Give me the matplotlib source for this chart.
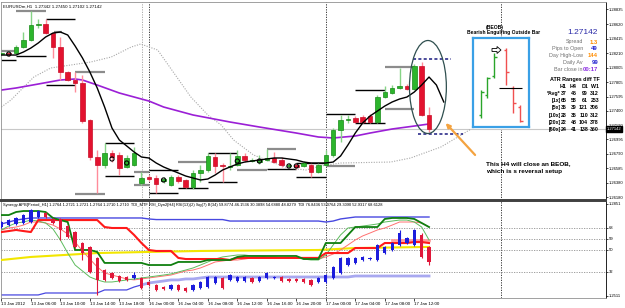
import numpy as np
import matplotlib.pyplot as plt
from matplotlib.patches import Ellipse, FancyArrow

plt.rcParams['font.family'] = ['Liberation Sans', 'DejaVu Sans']

# EURUSDm H1 bars, index 0 = 13 Jan 2012 02:00 ... index 58 = 17 Jan 14:00
opens = [1.28202, 1.28217, 1.28217, 1.28301, 1.28400, 1.28613, 1.28627, 1.28499, 1.28301, 1.27948,
         1.27835, 1.27792, 1.27269, 1.26746, 1.26633, 1.26803, 1.26774, 1.26605, 1.26633, 1.26378,
         1.26463, 1.26449, 1.26407, 1.26350, 1.26463, 1.26421, 1.26322, 1.26520, 1.26562, 1.26746,
         1.26633, 1.26605, 1.26633, 1.26760, 1.26689, 1.26675, 1.26704, 1.26732, 1.26704, 1.26619,
         1.26633, 1.26619, 1.26633, 1.26534, 1.26633, 1.26774, 1.27128, 1.27269, 1.27298, 1.27312,
         1.27326, 1.27241, 1.27594, 1.27651, 1.27722, 1.27750, 1.27708, 1.28033, 1.27342]
highs = [1.28231, 1.28231, 1.28330, 1.28514, 1.28810, 1.28697, 1.28697, 1.28514, 1.28443, 1.27962,
         1.27948, 1.27906, 1.27283, 1.26845, 1.26944, 1.26845, 1.26817, 1.26774, 1.26887, 1.26534,
         1.26492, 1.26492, 1.26463, 1.26492, 1.26492, 1.26435, 1.26562, 1.26633, 1.26803, 1.26803,
         1.26661, 1.26803, 1.26845, 1.26803, 1.26732, 1.26774, 1.26859, 1.26817, 1.26746, 1.26661,
         1.26661, 1.26689, 1.26661, 1.26675, 1.26845, 1.27156, 1.27340, 1.27340, 1.27326, 1.27340,
         1.27354, 1.27623, 1.27750, 1.27764, 1.28005, 1.27778, 1.28061, 1.28089, 1.27450]
lows = [1.28188, 1.28174, 1.28202, 1.28287, 1.28386, 1.28570, 1.28485, 1.28146, 1.27835, 1.27821,
        1.27665, 1.27227, 1.26704, 1.26237, 1.26591, 1.26675, 1.26492, 1.26591, 1.26619, 1.26350,
        1.26407, 1.26237, 1.26378, 1.26336, 1.26378, 1.26308, 1.26294, 1.26393, 1.26534, 1.26520,
        1.26393, 1.26562, 1.26619, 1.26675, 1.26675, 1.26647, 1.26689, 1.26661, 1.26605, 1.26591,
        1.26576, 1.26605, 1.26463, 1.26520, 1.26619, 1.26746, 1.26958, 1.27227, 1.27227, 1.27227,
        1.27227, 1.27227, 1.27580, 1.27637, 1.27708, 1.27693, 1.27693, 1.27326, 1.27102]
closes = [1.28217, 1.28202, 1.28301, 1.28400, 1.28613, 1.28627, 1.28499, 1.28301, 1.27948, 1.27835,
          1.27792, 1.27255, 1.26746, 1.26633, 1.26803, 1.26746, 1.26591, 1.26732, 1.26803, 1.26449,
          1.26435, 1.26364, 1.26435, 1.26463, 1.26407, 1.26322, 1.26520, 1.26562, 1.26760, 1.26619,
          1.26619, 1.26619, 1.26760, 1.26704, 1.26704, 1.26704, 1.26732, 1.26675, 1.26633, 1.26633,
          1.26605, 1.26661, 1.26534, 1.26633, 1.26774, 1.27128, 1.27269, 1.27283, 1.27241, 1.27241,
          1.27241, 1.27594, 1.27665, 1.27722, 1.27750, 1.27708, 1.28033, 1.27340, 1.27142]

# black MA (shifted 2 bars forward, so 61 values)
ma_fast = [1.28188, 1.28188, 1.28188, 1.28231, 1.28287, 1.28358, 1.28443, 1.28499, 1.28514, 1.28471,
           1.28316, 1.28146, 1.27948, 1.27722, 1.27453, 1.27156, 1.26986, 1.26902, 1.26817, 1.26746,
           1.26732, 1.26661, 1.26605, 1.26562, 1.26520, 1.26477, 1.26449, 1.26421, 1.26435, 1.26492,
           1.26562, 1.26605, 1.26647, 1.26675, 1.26689, 1.26704, 1.26718, 1.26732, 1.26732, 1.26718,
           1.26704, 1.26675, 1.26661, 1.26661, 1.26661, 1.26675, 1.26760, 1.26916, 1.27085, 1.27227,
           1.27326, 1.27396, 1.27467, 1.27524, 1.27566, 1.27594, 1.27665, 1.27764, 1.27877, 1.27764,
           1.27524]
# purple MA
ma_slow_idx = [0, 2, 5, 8, 10, 11, 13, 16, 19, 20, 22, 26, 31, 35, 40, 43, 45, 48, 50, 53, 56, 58]
ma_slow = [1.27693, 1.27722, 1.27778, 1.27835, 1.27849, 1.27835, 1.27764, 1.27651, 1.27566, 1.27538,
           1.27453, 1.27340, 1.27241, 1.27170, 1.27085, 1.27029, 1.27015, 1.27043, 1.27085, 1.27142,
           1.27184, 1.27213]
# gray dotted line
env_idx = [0, 1.3, 4.4, 6.7, 9.4, 12.1, 14.9, 17.6, 18.9, 21.2, 23.4, 25.7, 28.0, 29.8, 31.5, 34.2,
           37.0, 38.9, 41.3, 43.3, 46.0, 52.8, 55.5, 59.6, 61.9, 63.7]
env = [1.27453, 1.27552, 1.27877, 1.28005, 1.28047, 1.28089, 1.28160, 1.28301, 1.28344, 1.28259,
       1.27934, 1.27594, 1.27340, 1.27199, 1.26986, 1.26774, 1.26661, 1.26591, 1.26562, 1.26619,
       1.26661, 1.26675, 1.26732, 1.26887, 1.27029, 1.27142]

# H4 high / low levels
lvl_start = [0, 0, 2, 2, 6, 6, 7.1, 10, 10, 14, 14, 18, 18, 20, 20, 24, 24, 28, 28, 32,
             36, 36, 40, 40, 44, 44, 48, 48, 52, 52]
lvl_end = [2, 2, 6, 6, 10, 10, 8.2, 14, 14, 18, 18, 20, 20, 24, 24, 28, 28, 32, 32, 36,
           40, 40, 44, 44, 48, 48, 52, 52, 56, 56]
lvl_price = [1.28245, 1.28118, 1.28810, 1.28174, 1.28697, 1.27764, 1.28514, 1.27948, 1.26223, 1.26944,
             1.26477, 1.26534, 1.26350, 1.26562, 1.26237, 1.26675, 1.26308, 1.26803, 1.26393, 1.26562,
             1.26859, 1.26576, 1.26661, 1.26463, 1.27354, 1.26619, 1.27693, 1.27227, 1.28019, 1.27425]
lvl_kind = ['g', 'k', 'g', 'k', 'k', 'k', 'g', 'g', 'g', 'k', 'k', 'g', 'g', 'k', 'k',
            'g', 'k', 'k', 'k', 'g', 'g', 'k', 'k', 'k', 'k', 'g', 'k', 'k', 'g', 'g']

circ_idx = [1, 15, 17, 22, 32, 35, 39, 40]
circ_price = [1.28202, 1.26718, 1.26661, 1.26421, 1.26689, 1.26689, 1.26619, 1.26619]

price_ticks = [1.26180, 1.26380, 1.26585, 1.26790, 1.26995, 1.27190, 1.27400, 1.27595, 1.27805,
               1.28005, 1.28210, 1.28415, 1.28620, 1.28835]
last_price = 1.27142
cur_h4_high = 1.28132
cur_h4_low = 1.27071

time_idx = [0, 4, 8, 12, 16, 20, 24, 28, 32, 36, 40, 44, 48, 52, 56]
time_labels = ['13 Jan 2012', '13 Jan 06:00', '13 Jan 10:00', '13 Jan 14:00', '13 Jan 18:00',
               '16 Jan 00:00', '16 Jan 04:00', '16 Jan 08:00', '16 Jan 12:00', '16 Jan 16:00',
               '16 Jan 20:00', '17 Jan 00:00', '17 Jan 04:00', '17 Jan 08:00', '17 Jan 12:00']
day_seps = [20, 44, 67.7]

# Synergy APB / TDI sub window
blue_up = [71.3, 72.9, 74.5, 75.4, 76.2,
           76.2, 76.2, 76.2, 76.2, 76.2, 76.2, 76.2, 76.2, 76.2, 76.2, 76.2, 76.2, 76.2, 76.2, 76.2,
           75.4, 74.9, 74.9, 74.9, 74.9, 74.9, 74.9, 74.9, 74.9, 74.9, 74.9,
           73.7, 73.7, 73.7, 73.7, 73.7, 73.7, 73.7, 73.7, 73.7, 73.7, 73.7, 73.7, 73.7,
           72.9, 73.7, 75.4, 76.2,
           77.0, 77.0, 77.0, 77.0, 77.0, 77.0, 77.0, 77.0, 77.0, 77.0, 77.0]
blue_dn = [13.2, 13.2, 13.2, 13.2, 13.2, 13.2, 14.8, 14.8, 14.8, 14.8,
           14.8, 14.8, 14.8, 14.8, 17.3, 17.3, 17.3, 17.3, 19.7, 21.4,
           23.0, 23.8, 24.6, 25.5, 25.5, 26.3, 26.3, 27.1, 27.9, 27.9,
           27.9, 27.9, 27.9, 27.9, 27.9, 27.9, 27.9, 27.9, 27.9, 27.9,
           27.9, 27.9, 27.9, 27.9, 27.9, 27.9, 27.9, 27.9, 28.7, 28.7,
           28.7, 28.7, 28.7, 28.7, 28.7, 28.7, 28.7, 28.7, 28.7]
tdi_green = [78.6, 78.6, 81.1, 81.9, 81.9, 81.9, 81.1, 76.2, 74.5, 72.9,
             50.0, 50.0, 50.0, 48.4, 39.4, 39.4, 39.4, 39.4, 39.4, 39.4,
             37.7, 37.7, 37.7, 37.7, 40.2, 40.2, 40.2, 40.2, 41.8, 41.8,
             41.8, 41.8, 44.3, 45.1, 45.1, 45.1, 45.1, 45.1, 45.1, 45.1,
             45.1, 42.6, 42.6, 42.6, 55.7, 55.7, 55.7, 62.3, 68.8, 68.8,
             68.8, 68.8, 75.4, 76.2, 76.2, 76.2, 75.4, 72.1, 68.8]
tdi_lgreen = [66.4, 69.6, 72.1, 72.9, 74.5, 73.7, 72.1, 67.2, 58.2, 47.5,
              37.7, 32.8, 27.9, 25.5, 23.8, 23.8, 24.6, 25.5, 26.3, 27.1,
              27.9, 28.7, 29.5, 30.4, 32.0, 33.6, 35.3, 37.7, 40.2, 42.6,
              44.3, 45.1, 45.9, 45.9, 45.1, 45.1, 44.3, 44.3, 43.5, 43.5,
              43.5, 42.6, 41.8, 41.8, 45.9, 54.1, 62.3, 68.0, 68.8, 69.6,
              70.4, 71.3, 72.9, 73.7, 74.5, 74.5, 72.9, 68.8, 58.2]
tdi_red = [64.7, 65.5, 66.4, 65.5, 64.7, 74.5, 74.5, 74.5, 74.5, 74.5,
           74.5, 74.5, 74.5, 74.5, 68.8, 68.0, 68.0, 68.0, 62.3, 55.7,
           50.0, 49.2, 49.2, 49.2, 43.5, 42.6, 42.6, 42.6, 42.6, 42.6,
           42.6, 41.8, 43.5, 43.5, 43.5, 43.5, 43.5, 43.5, 43.5, 43.5,
           43.5, 43.5, 43.5, 43.5, 47.5, 47.5, 47.5, 47.5, 51.6, 51.6,
           51.6, 51.6, 55.7, 55.7, 55.7, 55.7, 56.5, 56.5, 55.7]
tdi_lred = [66.4, 68.0, 68.8, 70.4, 72.9, 72.9, 72.1, 70.4, 67.2, 63.1,
            56.5, 49.2, 42.6, 36.1, 31.2, 29.5, 27.9, 26.3, 25.5, 26.3,
            27.1, 27.9, 28.7, 29.5, 31.2, 32.8, 33.6, 35.3, 37.7, 40.2,
            41.0, 41.8, 41.8, 42.6, 43.5, 43.5, 43.5, 43.5, 43.5, 43.5,
            43.5, 43.5, 42.6, 42.6, 44.3, 46.7, 50.0, 54.1, 58.2, 61.5,
            63.9, 66.4, 68.0, 70.4, 72.9, 72.9, 72.9, 72.1, 68.8]
yellow_idx = [0, 4, 13, 20, 27, 43, 48, 58]
yellow_v = [41.8, 44.3, 47.5, 48.4, 49.2, 50.0, 51.6, 52.5]
pink_idx = [53, 58]
pink_v = [58.2, 58.2]

apb_open = [68.8, 70.4, 71.3, 72.1, 72.9, 77.0, 80.3, 75.4, 75.4, 69.6,
            64.7, 55.7, 52.5, 43.5, 33.6, 31.2, 28.7, 27.9, 27.1, 27.1,
            23.8, 21.4, 19.7, 18.1, 21.4, 18.9, 17.3, 18.9, 19.7, 23.0,
            27.1, 25.5, 24.6, 24.6, 27.1, 24.6, 27.1, 27.1, 27.9, 26.3,
            26.3, 26.3, 25.5, 23.8, 23.8, 27.1, 31.2, 37.7, 39.4, 41.8,
            43.0, 41.8, 47.5, 50.0, 54.1, 55.7, 54.1, 62.3, 52.5]
apb_close = [72.9, 74.5, 76.2, 78.6, 82.7, 81.9, 77.0, 72.1, 66.4, 60.6,
             52.5, 47.5, 32.0, 25.5, 25.5, 27.1, 24.6, 25.5, 29.5, 18.9,
             21.4, 17.3, 18.1, 21.4, 17.3, 16.5, 21.4, 23.8, 27.9, 27.9,
             18.9, 29.5, 27.9, 27.9, 23.8, 27.9, 31.2, 27.9, 24.6, 24.6,
             24.6, 23.8, 21.4, 27.1, 29.5, 36.1, 43.5, 43.5, 43.5, 44.3,
             43.5, 54.1, 52.5, 55.7, 63.9, 59.8, 66.4, 44.3, 40.2]
apb_high = [73.7, 75.4, 77.0, 79.4, 83.5, 82.7, 81.1, 76.2, 76.2, 70.4,
            65.5, 56.5, 53.3, 44.3, 34.4, 32.0, 29.5, 28.7, 32.0, 27.9,
            24.6, 22.2, 20.5, 22.2, 22.2, 19.7, 22.2, 24.6, 28.7, 28.7,
            27.9, 30.4, 28.7, 28.7, 27.9, 28.7, 32.0, 28.7, 28.7, 27.1,
            27.1, 27.1, 26.3, 27.9, 30.4, 36.9, 44.3, 44.3, 44.3, 45.1,
            44.3, 54.9, 53.3, 56.5, 66.4, 60.6, 67.2, 63.9, 53.3]
apb_low = [68.0, 69.6, 70.4, 71.3, 72.1, 76.2, 76.2, 71.3, 58.2, 59.8,
           51.6, 41.8, 31.2, 13.2, 24.6, 26.3, 23.8, 24.6, 26.3, 18.1,
           20.5, 16.5, 17.3, 17.3, 16.5, 15.7, 16.5, 18.1, 18.9, 22.2,
           18.1, 24.6, 23.8, 23.8, 23.0, 23.8, 26.3, 26.3, 23.8, 23.8,
           23.8, 23.0, 20.5, 23.0, 23.0, 26.3, 30.4, 36.9, 38.6, 41.0,
           42.2, 41.0, 46.7, 49.2, 53.3, 54.9, 53.3, 43.5, 37.7]

sub_levels = [68, 59, 50, 32]
sub_ticks = [12.5, 32, 50, 59, 68, 87.8]
sub_labels = ['1.2511', '32', '50', '59', '68', '1.2851']

# info panel
info_labels = ['Spread', 'Pips to Open', 'Day High-Low', 'Daily Av', 'Bar close in']
info_values = ['1.3', '49', '144', '99', '00:17']
info_colors = ['#ff8c00', '#2020d0', '#ff8c00', '#2020d0', '#8a2be2']
atr_cols = ['H1', 'H4', 'D1', 'W1']
atr_rows = ['*Avg*', '[1x]', '[5x]', '[10x]', '[20x]', '[60x]']
atr_vals = [[37, 45, 99, 312], [65, 58, 61, 253], [35, 39, 121, 306],
            [28, 35, 110, 312], [22, 48, 104, 378], [24, 41, 138, 360]]

# BEOB sketch in the box (own units)
pat_x = [8, 14, 21, 33, 40, 47]
pat_open = [12, 32, 51, 77, 39, 20]
pat_high = [37, 50, 74, 79, 41, 22]
pat_low = [9, 29, 49, 42, 14, 5]
pat_close = [35, 49, 70, 55, 24, 6]

W, H = 625.0, 308.0
fig = plt.figure(figsize=(6.25, 3.08), dpi=100)
ax = fig.add_axes([1 / W, 1 - 200 / H, 605 / W, 198 / H])
ax2 = fig.add_axes([1 / W, 1 - 298 / H, 605 / W, 97 / H])


def fx(x):
    return x / W


def fy(y):
    return 1 - y / H


for a in (ax, ax2):
    a.set_xlim(-0.05, 82.0)
    for s in a.spines.values():
        s.set_color('#909090')
        s.set_linewidth(0.6)
    a.spines['right'].set_color('black')
    a.axvline(19.1, color='#a0a0a0', lw=0.6, ls=(0, (1.5, 1.5)), zorder=1)
    for d in day_seps:
        a.axvline(d, color='#202020', lw=0.6, ls=(0, (1.5, 1.5)), zorder=1)
ax.spines['bottom'].set_color('#404040')
ax.spines['bottom'].set_linewidth(1.4)
ax2.spines['top'].set_color('#404040')
ax2.spines['top'].set_linewidth(1.4)

# ---- main price window
ax.set_ylim(1.26138, 1.28938)
ax.axhline(last_price, color='#c8c8c8', lw=0.8, zorder=1)

for s0, s1, p, k in zip(lvl_start, lvl_end, lvl_price, lvl_kind):
    if k == 'g':
        ax.hlines(p, s0, s1, color='#8c8c8c', lw=1.6, zorder=2)
    else:
        ax.hlines(p, s0, s1, color='black', lw=1.0, zorder=2)

ax.plot(env_idx, env, color='#a8a8a8', lw=0.8, ls=(0, (1, 1.3)), zorder=2)
ax.plot(ma_slow_idx, ma_slow, color='#9b1fd6', lw=1.2, zorder=2)

o = np.array(opens)
c = np.array(closes)
idx = np.arange(len(o))
up = c >= o
ax.vlines(idx, lows, highs, colors=np.where(up, '#86d486', '#ff8c9a'), lw=1, zorder=3)
body_lo = np.minimum(o, c)
body_h = np.maximum(np.abs(c - o), 0.00014)
ax.bar(idx, body_h, bottom=body_lo, width=0.62, color=np.where(up, '#2cb52c', '#e3122f'),
       edgecolor=np.where(up, '#188a18', '#c80e28'), lw=0.5, zorder=4)

ax.plot(np.arange(len(ma_fast)), ma_fast, color='black', lw=1.0, zorder=5)
ax.scatter(circ_idx, circ_price, s=9, facecolors='none', edgecolors='black', linewidths=0.8, zorder=6)

ax.hlines(cur_h4_high, 55.8, 61.0, color='#1a1a80', lw=1.1, ls=(0, (2, 1.5)), zorder=6)
ax.hlines(cur_h4_low, 56.5, 62.6, color='#1a1a80', lw=1.1, ls=(0, (2, 1.5)), zorder=6)
ax.add_patch(Ellipse((57.85, 1.27736), 5.0, 0.01315, fill=False, ec='#2f4f4f', lw=0.9, zorder=6))
ax.annotate('', xy=(60.0, 1.27255), xytext=(64.5, 1.26746),
            arrowprops=dict(arrowstyle='-|>', color='#f4a340', lw=1.6, mutation_scale=6), zorder=6)
ax.text(65.7, 1.26647, 'This H4 will close an BEOB,', fontsize=4.6, weight='bold', va='center')
ax.text(65.7, 1.26534, 'which is s reversal setup', fontsize=4.6, weight='bold', va='center')

ax.text(0.003, 0.988, 'EURUSDm,H1  1.27342 1.27450 1.27102 1.27142', transform=ax.transAxes,
        fontsize=3.2, va='top', ha='left')

ax.set_xticks([])
ax.yaxis.tick_right()
ax.set_yticks(price_ticks)
ax.set_yticklabels(['%.5f' % p for p in price_ticks])
ax.tick_params(axis='y', labelsize=3.0, length=1.5, width=0.5, pad=0.8)
ax.text(1.0015, last_price, '%.5f' % last_price, transform=ax.get_yaxis_transform(),
        fontsize=3.0, color='white', va='center', ha='left',
        bbox=dict(boxstyle='square,pad=0.2', fc='black', ec='black'), clip_on=False, zorder=10)

# ---- info panel
fig.text(fx(598), fy(33), '%.5f' % last_price, fontsize=6.0, color='#2a2aa8', ha='right', va='center')
for k, (lab, val, col) in enumerate(zip(info_labels, info_values, info_colors)):
    yy = 42 + k * 6.8
    fig.text(fx(583), fy(yy), lab, fontsize=3.9, color='#707070', ha='right', va='center')
    fig.text(fx(598), fy(yy), val, fontsize=4.2, color=col, ha='right', va='center', weight='bold')
fig.text(fx(575), fy(80), 'ATR Ranges diff TF', fontsize=3.9, weight='bold', ha='center', va='center')
col_x = [567, 577, 588, 599]
for cx, name in zip(col_x, atr_cols):
    fig.text(fx(cx), fy(86.5), name, fontsize=3.8, weight='bold', ha='right', va='center')
for r, (rl, vals) in enumerate(zip(atr_rows, atr_vals)):
    yy = 93.5 + r * 7.2
    fig.text(fx(561), fy(yy), rl, fontsize=3.8, weight='bold', ha='right', va='center')
    for cx, v in zip(col_x, vals):
        fig.text(fx(cx), fy(yy), str(v), fontsize=3.8, weight='bold', ha='right', va='center')

# ---- BEOB sketch box
fig.text(fx(494.5), fy(27), '(BEOB)', fontsize=3.6, weight='bold', ha='center', va='center')
fig.text(fx(503.5), fy(32.5), 'Bearish Engulfing Outside Bar', fontsize=3.6, weight='bold',
         ha='center', va='center')
bx = fig.add_axes([fx(473), fy(127), 56 / W, 89 / H])
bx.set_xlim(0, 56)
bx.set_ylim(0, 89)
bx.set_xticks([])
bx.set_yticks([])
for s in bx.spines.values():
    s.set_color('#3aa0e6')
    s.set_linewidth(1.6)
for px_, po, ph, pl, pc in zip(pat_x, pat_open, pat_high, pat_low, pat_close):
    col = '#2aa52a' if pc > po else '#f05050'
    bx.vlines(px_, pl, ph, color=col, lw=1)
    bx.hlines(po, px_ - 2.5, px_, color=col, lw=1)
    bx.hlines(pc, px_, px_ + 2.5, color=col, lw=1)
bx.hlines(39, 26, 49, color='black', lw=0.8)
bx.add_patch(FancyArrow(19, 77, 5, 0, width=3, head_width=7, head_length=4,
                        fc='white', ec='black', lw=0.6))

# ---- Synergy / TDI sub window
ax2.set_ylim(10.7, 90.1)
for lv in sub_levels:
    ax2.axhline(lv, color='#909090', lw=0.6, ls=(0, (1.5, 1.5)), zorder=1)
n = np.arange(len(blue_up))
ax2.plot(n, blue_up, color='#4848e0', lw=1.0, zorder=2)
ax2.plot(n[19:], blue_dn[19:], color='#a8a8f0', lw=2.0, zorder=2)
ax2.plot(n[:20], blue_dn[:20], color='#4848e0', lw=0.9, zorder=2)
ax2.plot(yellow_idx, yellow_v, color='#f2e600', lw=1.5, zorder=3)
ax2.plot(pink_idx, pink_v, color='#ff9c9c', lw=2.0, zorder=3)
ax2.plot(n, tdi_lred, color='#ff7070', lw=0.7, zorder=3)
ax2.plot(n, tdi_lgreen, color='#5dbb5d', lw=0.7, zorder=3)
ax2.plot(n, tdi_red, color='#ff1a1a', lw=1.5, zorder=4)
ax2.plot(n, tdi_green, color='#0f7f0f', lw=1.3, zorder=4)

ao = np.array(apb_open)
ac = np.array(apb_close)
aup = ac >= ao
acol = np.where(aup, '#1c1cdc', '#e0183a')
ax2.vlines(n, apb_low, apb_high, colors=acol, lw=0.8, zorder=5)
ax2.bar(n, np.maximum(np.abs(ac - ao), 0.8), bottom=np.minimum(ao, ac), width=0.45,
        color=acol, lw=0, zorder=5)

ax2.text(0.003, 0.958, 'Synergy APB[Period_H1] 1.2764 1.2721 1.2721 1.2764 1.2710 1.2710  '
         'TDI_MTF RSI_Dyn2[H4] RSI(13)(2) Sig(7) B(34) 59.8774 46.1536 30.3898 54.6880 48.8279  '
         'TDI 76.8436 53.0764 29.3090 52.9317 68.6128',
         transform=ax2.transAxes, fontsize=2.85, va='center', ha='left', zorder=8)

ax2.yaxis.tick_right()
ax2.set_yticks(sub_ticks)
ax2.set_yticklabels(sub_labels)
ax2.tick_params(axis='y', labelsize=3.0, length=1.5, width=0.5, pad=0.8)
ax2.set_xticks(time_idx)
ax2.set_xticklabels(time_labels)
ax2.tick_params(axis='x', labelsize=3.2, length=2.5, width=0.5, pad=0.6)
for t in ax2.get_xticklabels():
    t.set_horizontalalignment('left')

fig.savefig('out.png', dpi=100)
